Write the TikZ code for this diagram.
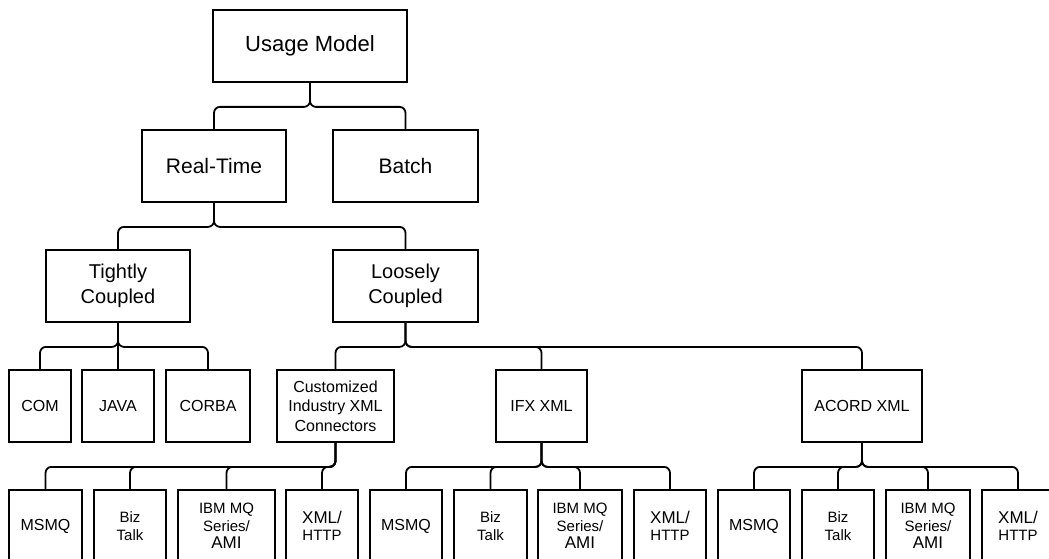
\documentclass[tikz,border=0pt]{standalone}
\usepackage{fontspec}
\setmainfont{Liberation Sans}
\usetikzlibrary{positioning}

\begin{document}
\begin{tikzpicture}[x=1pt,y=-1pt,
    box/.style={draw, line width=1.8pt, inner sep=0pt, align=center, minimum height=72pt},
    link/.style={line width=1.8pt, rounded corners=6pt},
    big/.style={font={\fontsize{21}{25}\selectfont}},
    mid/.style={font={\fontsize{16}{19.5}\selectfont}},
    small/.style={font={\fontsize{15}{17.5}\selectfont}}]
    \clip (0,0) rectangle (1049,559);

    % top levels
    \node[box,big,minimum width=194pt,font={\fontsize{22}{26}\selectfont}] (usage) at (310,46) {Usage Model};
    \node[box,big,minimum width=144pt] (realtime) at (214,166) {Real-Time};
    \node[box,big,minimum width=145pt] (batch) at (405.5,166) {Batch};
    \node[box,big,minimum width=144pt,font={\fontsize{20}{25}\selectfont}] (tight) at (118,286) {Tightly\\Coupled};
    \node[box,big,minimum width=145pt,font={\fontsize{20}{25}\selectfont}] (loose) at (405.5,286) {Loosely\\Coupled};

    % tightly coupled
    \node[box,mid,minimum width=62pt] (com) at (40,406) {COM};
    \node[box,mid,minimum width=72pt] (java) at (118,406) {JAVA};
    \node[box,mid,minimum width=84pt] (corba) at (208,406) {CORBA};

    % loosely coupled
    \node[box,mid,minimum width=117pt] (custom) at (335.5,406) {Customized\\Industry XML\\Connectors};
    \node[box,mid,minimum width=91pt] (ifx) at (541.5,406) {IFX XML};
    \node[box,mid,minimum width=120pt] (acord) at (862,406) {ACORD XML};

    % transports
    \node[box,mid,minimum width=73pt] (msmq1) at (45.5,526) {MSMQ};
    \node[box,small,minimum width=72pt] (biz1) at (130,526) {Biz\\Talk};
    \node[box,small,minimum width=97pt] (ibm1) at (226.5,526) {IBM MQ\\Series/\\{\fontsize{17}{17}\selectfont AMI}};
    \node[box,small,minimum width=72pt] (xml1) at (322,526) {\fontsize{17}{17}\selectfont XML/\\HTTP};
    \node[box,mid,minimum width=72pt] (msmq2) at (406,526) {MSMQ};
    \node[box,small,minimum width=73pt] (biz2) at (490.5,526) {Biz\\Talk};
    \node[box,small,minimum width=84pt] (ibm2) at (580,526) {IBM MQ\\Series/\\{\fontsize{17}{17}\selectfont AMI}};
    \node[box,small,minimum width=72pt] (xml2) at (670,526) {\fontsize{17}{17}\selectfont XML/\\HTTP};
    \node[box,mid,minimum width=72pt] (msmq3) at (754,526) {MSMQ};
    \node[box,small,minimum width=72pt] (biz3) at (838,526) {Biz\\Talk};
    \node[box,small,minimum width=84pt] (ibm3) at (928,526) {IBM MQ\\Series/\\{\fontsize{17}{17}\selectfont AMI}};
    \node[box,small,minimum width=72pt] (xml3) at (1018,526) {\fontsize{17}{17}\selectfont XML/\\HTTP};

    % parent to children
    \foreach \from/\to in {usage/realtime, usage/batch,
                           realtime/tight, realtime/loose,
                           tight/com, tight/corba,
                           loose/custom, loose/ifx, loose/acord,
                           custom/msmq1, custom/biz1, custom/ibm1, custom/xml1,
                           ifx/msmq2, ifx/biz2, ifx/ibm2, ifx/xml2,
                           acord/msmq3, acord/biz3, acord/ibm3, acord/xml3}
    \draw[link] (\from.south) -- ++(0,24) -| (\to.north);
    \draw[link] (tight.south) -- (java.north);
\end{tikzpicture}
\end{document}
